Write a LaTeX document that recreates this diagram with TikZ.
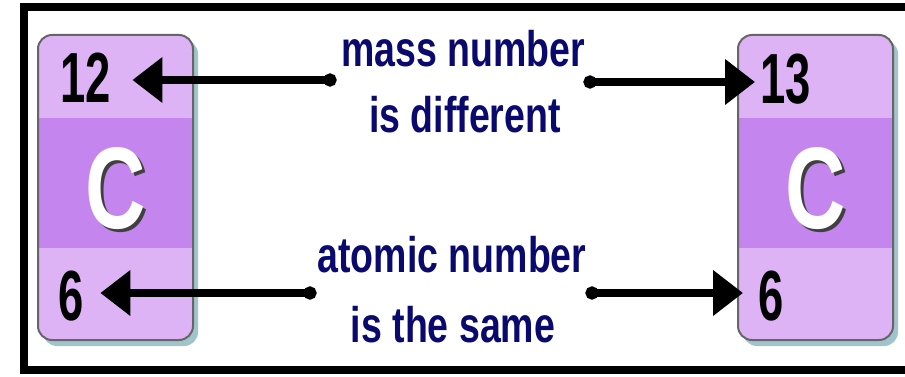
\documentclass[tikz,border=0pt]{standalone}
\usepackage{fontspec}
\setmainfont{Liberation Sans}
\newfontfamily\narrowfont[FakeStretch=0.75]{Liberation Sans}
\newfontfamily\digitfont[FakeStretch=0.64]{Liberation Sans}
\newfontfamily\symbfont[FakeStretch=0.72]{Liberation Sans}
\usetikzlibrary{arrows.meta, calc}
\definecolor{lilaclight}{HTML}{DDB3F5}
\definecolor{lilacdark}{HTML}{C585EE}
\definecolor{boxshadow}{HTML}{A0C4CC}
\definecolor{boxedge}{HTML}{666666}
\definecolor{labelnavy}{HTML}{0A0A6E}

\begin{document}
\begin{tikzpicture}[x=1pt, y=-1pt,
        num/.style={font=\digitfont\bfseries\fontsize{71}{71}\selectfont, inner sep=0pt, anchor=base west},
        symb/.style={font=\symbfont\bfseries\fontsize{116}{116}\selectfont, inner sep=0pt, anchor=base},
        lbl/.style={font=\narrowfont\bfseries\fontsize{50}{50}\selectfont, text=labelnavy, inner sep=0pt, anchor=base},
        conn/.style={line width=8pt, {Circle[length=13pt]}-{Triangle[length=30pt,width=44pt]}}]
        \clip (0,0) rectangle (905,377);
        \fill[white] (0,0) rectangle (905,377);

        % frame
        \draw[line width=8pt] (23.5,7.5) rectangle (1000,370);

        % the two atom cards
        \foreach \x/\s in {38/L, 738/R} {
            \fill[boxshadow, rounded corners=14pt] (\x+5,40) rectangle (\x+160,346);
            \begin{scope}
                \clip[rounded corners=14pt] (\x,35) rectangle (\x+155,340);
                \fill[lilaclight] (\x,35) rectangle (\x+155,340);
                \fill[lilacdark] (\x,118) rectangle (\x+155,248);
            \end{scope}
            \draw[boxedge, line width=2pt, rounded corners=14pt] (\x,35) rectangle (\x+155,340);
            \node[symb, black!75] (cs\s) at (\x+80.5,231) {C};
            \node[symb, white] (c\s) at (\x+77.5,228) {C};
        }

        \node[num] (massL) at (60,103) {12};
        \node[num] (atomL) at (58,320) {6};
        \node[num] (massR) at (760,104) {13};
        \node[num] (atomR) at (758,320) {6};

        \node[lbl] (massA) at (463,67) {mass number};
        \node[lbl] (massB) at (465,133) {is different};
        \node[lbl] (atomA) at (452,272) {atomic number};
        \node[lbl] (atomB) at (453,342) {is the same};

        \coordinate (dotML) at (336.5,80);
        \coordinate (dotMR) at (583.5,82);
        \coordinate (dotAL) at (316.5,293);
        \coordinate (dotAR) at (585.5,293);

        \draw[conn] (dotML) -- ($(dotML -| massL.east)+(21.5,0)$);
        \draw[conn] (dotMR) -- ($(dotMR -| massR.west)+(-5,0)$);
        \draw[conn] (dotAL) -- ($(dotAL -| atomL.east)+(16.7,0)$);
        \draw[conn] (dotAR) -- ($(dotAR -| atomR.west)+(-15,0)$);
\end{tikzpicture}
\end{document}
